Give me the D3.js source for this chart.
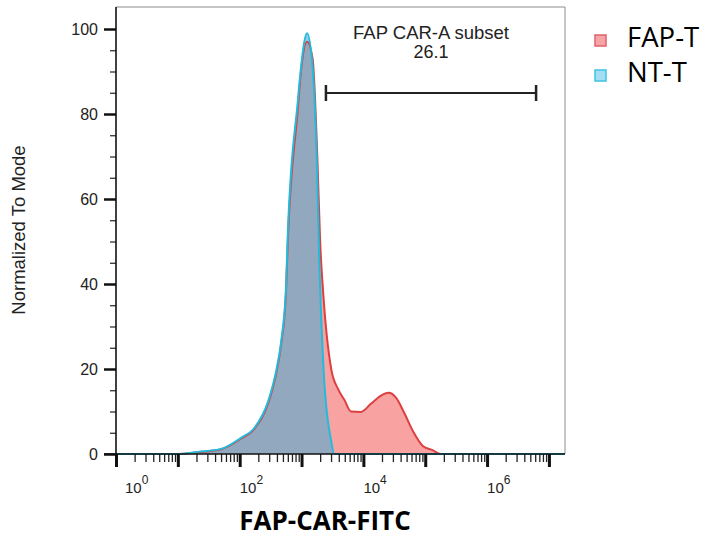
<!DOCTYPE html>
<html>
<head>
<meta charset="utf-8">
<script src="https://cdn.jsdelivr.net/npm/d3@7"></script>
<style>
  body { margin: 0; background: #fff; }
  text { font-family: "Liberation Sans", Arial, sans-serif; }
</style>
</head>
<body>
<svg id="chart" width="708" height="544"></svg>
<script>
const seriesNames = ["FAP-T", "NT-T"];

const ntLevels = [1, 10, 21, 50, 105, 170, 290, 390, 470, 560, 600, 870, 980, 1230, 1510, 1780, 1900, 2290, 3020, 3390, 1.8e7];
const ntCounts = [0, 0, 0.5, 1.2, 3.8, 6, 12.5, 19.6, 26.6, 39, 52, 83, 91, 99, 91, 67, 50, 19, 3, 0, 0];

const fapLevels = [1, 10, 21, 50, 105, 170, 290, 390, 470, 560, 600, 870, 980, 1230, 1510, 1800, 2000, 2290, 3020, 3890, 4900, 6300, 9100, 13200, 19000, 25700, 33900, 45700, 63100, 91200, 132000, 178000, 1.8e7];
const fapCounts = [0, 0, 0.4, 1.1, 3.6, 5.8, 12, 19, 26, 38, 50, 81, 90, 97, 93, 70, 50, 36, 20, 15.3, 12.8, 10, 9.9, 11.8, 13.7, 14.4, 13.2, 9.7, 5.4, 1.9, 0.9, 0, 0];

const yMajorTicks = [0, 20, 40, 60, 80, 100];
const xLabelDecades = [0, 2, 4, 6];
const gateRange = [2480, 6.2e6];
const gateName = "FAP CAR-A subset";
const gatePercent = "26.1";
const xTitle = "FAP-CAR-FITC";
const yTitle = "Normalized To Mode";

const colors = {
  "FAP-T": { fill: "#f9a2a2", stroke: "#dc4040", opacity: 1, key: "#f7a4a8", keyStroke: "#e0606a" },
  "NT-T": { fill: "#4dacd1", stroke: "#22bbdc", opacity: 0.6, key: "#a3def2", keyStroke: "#3ec4e2" }
};

let svg = d3.select("#chart");
let plotLeft = 116, plotRight = 565, plotTop = 7, plotBottom = 454;

let xScale = d3.scaleLog()
    .domain([1, Math.pow(10, 7.26)])
    .range([plotLeft, plotRight]);

let yScale = d3.scaleLinear()
    .domain([0, 100])
    .range([plotBottom, 29]);

// frame (top and right)
svg.append("path")
    .attr("d", `M${plotLeft},${plotTop}H${plotRight}V${plotBottom}`)
    .attr("fill", "none")
    .attr("stroke", "#8c8c8c")
    .attr("stroke-width", 1);

// histograms
let area = d3.area()
    .x(d => xScale(d[0]))
    .y0(yScale(0))
    .y1(d => yScale(d[1]))
    .curve(d3.curveMonotoneX);

let line = d3.line()
    .x(d => xScale(d[0]))
    .y(d => yScale(d[1]))
    .curve(d3.curveMonotoneX);

let series = [
    { name: "FAP-T", points: d3.zip(fapLevels, fapCounts) },
    { name: "NT-T", points: d3.zip(ntLevels, ntCounts) }
];

series.forEach(s => {
    svg.append("path")
        .datum(s.points)
        .attr("d", area)
        .attr("fill", colors[s.name].fill)
        .attr("fill-opacity", colors[s.name].opacity);
});
series.forEach(s => {
    svg.append("path")
        .datum(s.points)
        .attr("d", line)
        .attr("fill", "none")
        .attr("stroke", colors[s.name].stroke)
        .attr("stroke-width", 2);
});

// Y axis: minor ticks every 5, major every 20
let yMinor = d3.range(0, 101, 5).filter(v => v % 20 !== 0);
svg.append("g")
    .attr("transform", `translate(${plotLeft},0)`)
    .call(d3.axisLeft(yScale).tickValues(yMinor).tickSize(6).tickFormat(""))
    .call(g => g.select(".domain").remove())
    .call(g => g.selectAll("line").attr("stroke", "#222").attr("stroke-width", 1.2));

svg.append("g")
    .attr("transform", `translate(${plotLeft},0)`)
    .call(d3.axisLeft(yScale).tickValues(yMajorTicks).tickSize(12).tickPadding(6))
    .call(g => g.select(".domain").remove())
    .call(g => g.selectAll("line").attr("stroke", "#111").attr("stroke-width", 2.5))
    .call(g => g.selectAll("text")
        .attr("font-size", "16px")
        .attr("font-family", "Liberation Sans, Arial, sans-serif")
        .attr("fill", "#222"));

// X axis: log minor ticks, decade major ticks
let xMinor = [];
for (let e = 0; e < 7.26; e++) {
    for (let m = 2; m <= 9; m++) {
        let v = m * Math.pow(10, e);
        if (v < xScale.domain()[1]) xMinor.push(v);
    }
}
let xMajor = d3.range(0, 8).map(e => Math.pow(10, e));

svg.append("g")
    .attr("transform", `translate(0,${plotBottom})`)
    .call(d3.axisBottom(xScale).tickValues(xMinor).tickSize(8).tickFormat(""))
    .call(g => g.select(".domain").remove())
    .call(g => g.selectAll("line").attr("stroke", "#222").attr("stroke-width", 1.3));

svg.append("g")
    .attr("transform", `translate(0,${plotBottom})`)
    .call(d3.axisBottom(xScale).tickValues(xMajor).tickSize(13).tickFormat(""))
    .call(g => g.select(".domain").remove())
    .call(g => g.selectAll("line").attr("stroke", "#111").attr("stroke-width", 3));

// axis lines
svg.append("line")
    .attr("x1", plotLeft - 12).attr("x2", plotRight)
    .attr("y1", plotBottom).attr("y2", plotBottom)
    .attr("stroke", "#111").attr("stroke-width", 1.6);
svg.append("line")
    .attr("x1", plotLeft).attr("x2", plotLeft)
    .attr("y1", plotTop).attr("y2", plotBottom + 13)
    .attr("stroke", "#111").attr("stroke-width", 1.6);

// decade labels 10^n
let xLab = svg.append("g");
xLabelDecades.forEach(e => {
    let t = xLab.append("text")
        .attr("x", Math.max(xScale(Math.pow(10, e)), plotLeft + 9))
        .attr("y", 493)
        .attr("font-size", "15px")
        .attr("fill", "#222");
    t.append("tspan").text("10");
    t.append("tspan")
        .attr("dy", "-9")
        .attr("font-size", "12px")
        .text(e);
});

// gate bar
let gx0 = xScale(gateRange[0]), gx1 = xScale(gateRange[1]), gy = 93;
svg.append("line")
    .attr("x1", gx0).attr("x2", gx1)
    .attr("y1", gy).attr("y2", gy)
    .attr("stroke", "#222").attr("stroke-width", 2);
[gx0, gx1].forEach(x => {
    svg.append("line")
        .attr("x1", x).attr("x2", x)
        .attr("y1", gy - 8).attr("y2", gy + 8)
        .attr("stroke", "#222").attr("stroke-width", 2.5);
});
svg.append("text")
    .attr("x", (gx0 + gx1) / 2)
    .attr("y", 39)
    .attr("text-anchor", "middle")
    .attr("font-size", "18.5px")
    .attr("fill", "#222")
    .text(gateName);
svg.append("text")
    .attr("x", (gx0 + gx1) / 2)
    .attr("y", 58)
    .attr("text-anchor", "middle")
    .attr("font-size", "18px")
    .attr("fill", "#222")
    .text(gatePercent);

// Y title
svg.append("text")
    .attr("transform", "rotate(-90)")
    .attr("x", -230)
    .attr("y", 25)
    .attr("text-anchor", "middle")
    .attr("font-size", "18.5px")
    .attr("fill", "#222")
    .text(yTitle);

// X title
svg.append("text")
    .attr("x", 325)
    .attr("y", 530)
    .attr("text-anchor", "middle")
    .style("font-family", "'Open Sans', sans-serif")
    .style("font-weight", "bold")
    .style("font-size", "26px")
    .attr("fill", "#000")
    .text(xTitle);

// legend
let legend = svg.selectAll(".legend")
    .data(seriesNames)
    .enter()
    .append("g")
    .attr("class", "legend")
    .attr("transform", (d, i) => `translate(595,${35 + i * 35})`);

legend.append("rect")
    .attr("x", 0).attr("y", 0)
    .attr("width", 11).attr("height", 11)
    .attr("fill", d => colors[d].key)
    .attr("stroke", d => colors[d].keyStroke)
    .attr("stroke-width", 1.5);

legend.append("text")
    .attr("x", 32)
    .attr("y", 12)
    .style("font-family", "'Open Sans', sans-serif")
    .style("font-size", "27.5px")
    .attr("fill", "#000")
    .text(d => d);
</script>
</body>
</html>
